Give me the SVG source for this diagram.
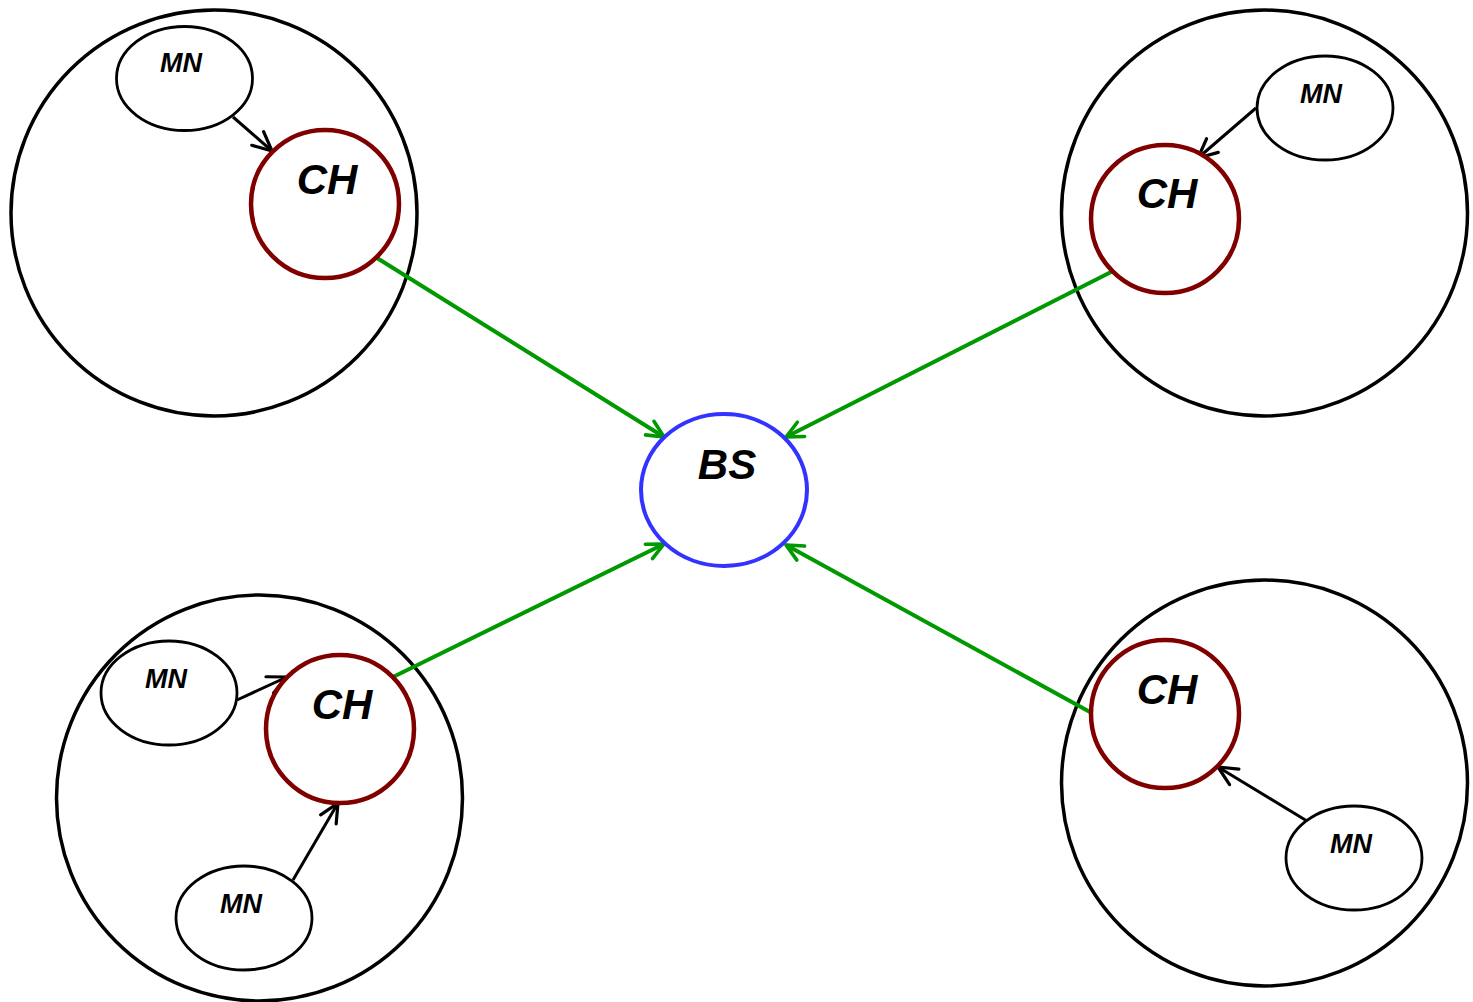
<svg xmlns="http://www.w3.org/2000/svg" width="1473" height="1002" viewBox="0 0 1473 1002">
  <style>
    .cluster { fill: none; stroke: #000; stroke-width: 3.5; }
    .ch { fill: #fff; stroke: #800000; stroke-width: 4.5; }
    .mn { fill: #fff; stroke: #000; stroke-width: 2.8; }
    .bs { fill: #fff; stroke: #3333ff; stroke-width: 4; }
    .lbl { font-family: "Liberation Sans", Arial, sans-serif; font-weight: bold; font-style: italic; fill: #000; text-anchor: middle; }
    .big { font-size: 42px; }
    .small { font-size: 27px; }
    .link { fill: none; stroke: #000; stroke-width: 3; marker-end: url(#headBlack); }
    .uplink { fill: none; stroke: #009900; stroke-width: 4; marker-end: url(#headGreen); }
  </style>
  <defs>
    <marker id="headBlack" markerUnits="userSpaceOnUse" orient="auto" markerWidth="40" markerHeight="40" viewBox="-20 -20 40 40" refX="0" refY="0" overflow="visible">
      <path d="M -19 -9 L 0 0 L -19 9" fill="none" stroke="#000" stroke-width="3.2" stroke-linecap="round" stroke-linejoin="round"/>
    </marker>
    <marker id="headGreen" markerUnits="userSpaceOnUse" orient="auto" markerWidth="40" markerHeight="40" viewBox="-25 -25 50 50" refX="0" refY="0" overflow="visible">
      <path d="M -21 -10 L 0 0 L -21 10" fill="none" stroke="#009900" stroke-width="4.5" stroke-linecap="round" stroke-linejoin="round"/>
    </marker>
  </defs>
  <rect width="1473" height="1002" fill="#fff"/>

  <!-- cluster boundaries -->
  <g id="clusters">
    <circle id="cluster-tl" class="cluster" cx="214" cy="213" r="203"/>
    <circle id="cluster-tr" class="cluster" cx="1264.5" cy="213" r="203"/>
    <circle id="cluster-bl" class="cluster" cx="259.5" cy="798" r="203"/>
    <circle id="cluster-br" class="cluster" cx="1264.5" cy="783" r="203"/>
  </g>

  <!-- links: member nodes to cluster heads, cluster heads to base station -->
  <g id="connectors">
    <line class="link" x1="233" y1="117" x2="272" y2="151"/>
    <line class="link" x1="1256" y1="108" x2="1198" y2="158"/>
    <line class="link" x1="237" y1="700" x2="287" y2="677"/>
    <line class="link" x1="293" y1="880" x2="338" y2="803"/>
    <line class="link" x1="1307" y1="821" x2="1218" y2="767"/>
    <line class="uplink" x1="377" y1="258" x2="664" y2="437"/>
    <line class="uplink" x1="1113" y1="271" x2="786" y2="437"/>
    <line class="uplink" x1="393" y1="677" x2="664" y2="544"/>
    <line class="uplink" x1="1090" y1="712" x2="786" y2="545"/>
  </g>

  <!-- base station -->
  <g id="bs">
    <ellipse class="bs" cx="724" cy="490" rx="83" ry="76"/>
    <text class="lbl big" x="727" y="479">BS</text>
  </g>

  <!-- top-left cluster -->
  <g id="ch-tl">
    <circle class="ch" cx="325" cy="204" r="74"/>
    <text class="lbl big" x="327" y="194">CH</text>
  </g>
  <g id="mn-tl">
    <ellipse class="mn" cx="184.5" cy="78.5" rx="68" ry="52"/>
    <text class="lbl small" x="181" y="72">MN</text>
  </g>

  <!-- top-right cluster -->
  <g id="ch-tr">
    <circle class="ch" cx="1165" cy="219" r="74"/>
    <text class="lbl big" x="1167" y="208">CH</text>
  </g>
  <g id="mn-tr">
    <ellipse class="mn" cx="1325" cy="108" rx="68" ry="52"/>
    <text class="lbl small" x="1321" y="103">MN</text>
  </g>

  <!-- bottom-left cluster -->
  <g id="ch-bl">
    <circle class="ch" cx="340" cy="729" r="74"/>
    <text class="lbl big" x="342" y="719">CH</text>
  </g>
  <g id="mn-bl1">
    <ellipse class="mn" cx="169" cy="693" rx="68" ry="52"/>
    <text class="lbl small" x="166" y="688">MN</text>
  </g>
  <g id="mn-bl2">
    <ellipse class="mn" cx="244" cy="918" rx="68" ry="52"/>
    <text class="lbl small" x="241" y="913">MN</text>
  </g>

  <!-- bottom-right cluster -->
  <g id="ch-br">
    <circle class="ch" cx="1165" cy="714" r="74"/>
    <text class="lbl big" x="1167" y="704">CH</text>
  </g>
  <g id="mn-br">
    <ellipse class="mn" cx="1354" cy="858" rx="68" ry="52"/>
    <text class="lbl small" x="1351" y="853">MN</text>
  </g>
</svg>
